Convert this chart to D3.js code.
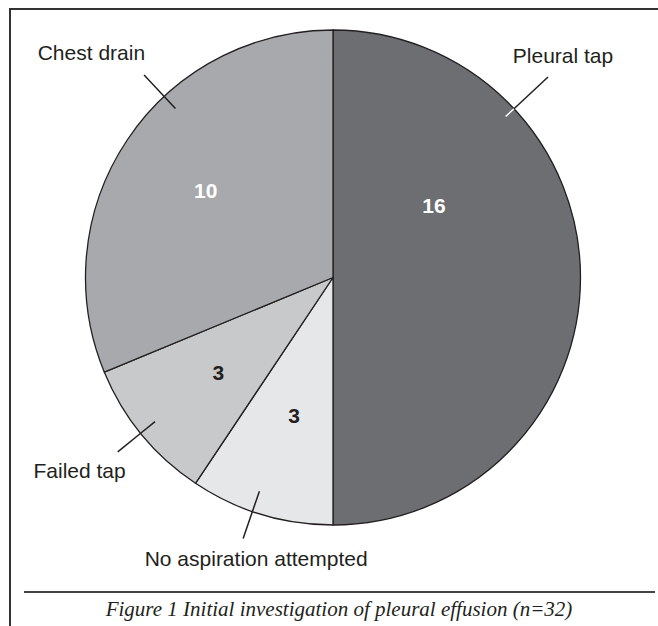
<!DOCTYPE html>
<html>
<head>
<meta charset="utf-8">
<script src="https://cdn.jsdelivr.net/npm/d3@7"></script>
<style>
  html, body { margin: 0; padding: 0; background: #fff; }
  svg { display: block; }
</style>
</head>
<body>
<div id="chart"></div>
<script>
// data, clockwise from 12 o'clock
const categories = ['Pleural tap', 'No aspiration attempted', 'Failed tap', 'Chest drain']
const counts = [16, 3, 3, 10]
const caption = 'Figure 1 Initial investigation of pleural effusion (n=32)'

const width = 658, height = 626
const cx = 333, cy = 277.5, R = 247.5
const fills = ['#6d6e71', '#e6e7e8', '#c8c9cb', '#a7a9ac']
const numColor = ['#fff', '#231f20', '#231f20', '#fff']

// leader line / label placement (degrees clockwise from top)
const leaders = [
  {deg: 47, r0: 236, r1: 294, dx: 15, dy: -14, anchor: 'middle', inner: '#fff'},
  {deg: 199, r0: 226, r1: 276, dx: 13, dy: 28, anchor: 'middle', inner: '#231f20'},
  {deg: 231, r0: 229, r1: 277, dx: 8, dy: 26, anchor: 'end', inner: '#231f20'},
  {deg: 317, r0: 231, r1: 277, dx: 1, dy: -15, anchor: 'end', inner: '#231f20'}
]
// value labels: [angle deg, radius]
const numPos = [[54.5, 124], [195.8, 143], [230.3, 149], [304.3, 154]]

const svg = d3.select('#chart').append('svg')
  .attr('width', width)
  .attr('height', height)

// frame
svg.append('line').attr('x1', 10).attr('x2', 10).attr('y1', 8).attr('y2', height)
  .attr('stroke', '#333').attr('stroke-width', 2)
svg.append('line').attr('x1', 9).attr('x2', width).attr('y1', 9).attr('y2', 9)
  .attr('stroke', '#333').attr('stroke-width', 2)

const pie = d3.pie().sort(null).value(d => d)
const arcs = pie(counts)
const arc = d3.arc().innerRadius(0).outerRadius(R)

const g = svg.append('g').attr('transform', `translate(${cx},${cy})`)

g.selectAll('path.slice')
  .data(arcs)
  .join('path')
  .attr('class', 'slice')
  .attr('d', arc)
  .attr('fill', (d, i) => fills[i])
  .attr('stroke', '#231f20')
  .attr('stroke-width', 1.3)
  .attr('stroke-linejoin', 'round')

const pt = (deg, r) => {
  const a = deg * Math.PI / 180
  return [r * Math.sin(a), -r * Math.cos(a)]
}

// leader lines: inside part then outside part
leaders.forEach((l, i) => {
  const a = pt(l.deg, l.r0), b = pt(l.deg, R), c = pt(l.deg, l.r1)
  g.append('line')
    .attr('x1', a[0]).attr('y1', a[1]).attr('x2', b[0]).attr('y2', b[1])
    .attr('stroke', l.inner).attr('stroke-width', 1.5)
  g.append('line')
    .attr('x1', b[0]).attr('y1', b[1]).attr('x2', c[0]).attr('y2', c[1])
    .attr('stroke', '#231f20').attr('stroke-width', 1.5)
  g.append('text')
    .attr('x', c[0] + l.dx)
    .attr('y', c[1] + l.dy)
    .attr('text-anchor', l.anchor)
    .attr('font-family', 'Liberation Sans, Arial, sans-serif')
    .attr('font-size', 21)
    .attr('fill', '#231f20')
    .text(categories[i])
})

// value numbers
g.selectAll('text.num')
  .data(arcs)
  .join('text')
  .attr('class', 'num')
  .attr('x', (d, i) => pt(numPos[i][0], numPos[i][1])[0])
  .attr('y', (d, i) => pt(numPos[i][0], numPos[i][1])[1] + 7.5)
  .attr('text-anchor', 'middle')
  .attr('font-family', 'Liberation Sans, Arial, sans-serif')
  .attr('font-weight', 'bold')
  .attr('font-size', 21)
  .attr('fill', (d, i) => numColor[i])
  .text(d => d.value)

// rule + caption
svg.append('line').attr('x1', 24).attr('x2', 655).attr('y1', 592).attr('y2', 592)
  .attr('stroke', '#444').attr('stroke-width', 2)
svg.append('text')
  .attr('x', 339)
  .attr('y', 616)
  .attr('text-anchor', 'middle')
  .attr('font-family', 'Liberation Serif, Times New Roman, serif')
  .attr('font-style', 'italic')
  .attr('font-size', 21)
  .attr('fill', '#231f20')
  .text(caption)
</script>
</body>
</html>
